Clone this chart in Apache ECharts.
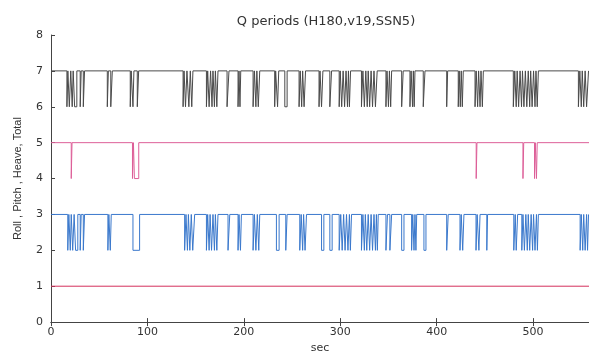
<!DOCTYPE html>
<html>
<head>
<meta charset="utf-8">
<script src="https://cdn.jsdelivr.net/npm/echarts@6/dist/echarts.min.js"></script>
<style>
  html, body { margin: 0; padding: 0; background: #fff; }
  #chart { width: 589px; height: 359px; }
</style>
</head>
<body>
<div id="chart"></div>
<script>
// x extent in sec (right edge of the picture)
const xMax = 558;
const xTicks = [0, 100, 200, 300, 400, 500];

// each series sits on a base level and drops by 1 during these intervals [start, end] (sec)
const totalBase = 7;
const totalDrops = [
  [16.5, 17.5], [19, 20.5], [22, 23], [24.5, 26.8],
  [30.3, 31.3], [33.5, 34.8],
  [58.4, 59.5], [62, 63.6],
  [82.2, 83.2], [85, 86], [89.5, 90.9],
  [137, 138], [139.5, 141], [143, 144.5], [146, 147.2],
  [161.2, 162.5], [164, 165.5], [167, 168], [169.5, 170.5], [172, 173.2],
  [182.6, 184.6],
  [194, 195], [196, 196.8],
  [209.6, 211], [212.5, 213.5], [215, 216.5],
  [232, 233], [235, 236.2],
  [242.5, 244.9],
  [257.3, 258.5], [260, 261], [262.5, 264],
  [278, 279], [280.6, 282],
  [289.2, 291],
  [298.9, 300], [301.5, 303], [304.5, 306], [307.5, 308.5], [309.5, 310.7],
  [322, 323.5], [325, 326.5], [328, 329], [330.5, 332], [333.5, 335], [336.5, 338.3],
  [347.4, 348.5], [350, 351], [352.3, 353.3],
  [363.7, 365.3],
  [372.3, 373.5], [375, 375.8], [376.7, 377.5],
  [386.1, 387.9],
  [410.4, 411.4],
  [422.4, 423.4], [424.5, 425.5], [426.6, 427.6],
  [439.8, 441], [442.5, 443.5], [445, 446], [447.4, 448.4],
  [479.5, 481], [482.5, 483.5], [485, 486.5], [488, 489], [490.5, 492],
  [493.5, 495], [496.5, 497.5], [499, 500.5], [502, 503], [504.3, 505.5],
  [547, 548.5], [550, 551], [552.5, 554], [555.5, 557.5]
];

const heaveBase = 5;
const heaveDrops = [
  [21, 21.8],
  [84.5, 85.5], [86.5, 91],
  [441, 441.8],
  [489.5, 490.3],
  [501.5, 502.3], [503.5, 504.3]
];

const pitchBase = 3;
const pitchDrops = [
  [17.4, 18.5], [20, 21], [22.5, 24], [25.5, 27.8],
  [30.3, 31.3], [33.5, 34.8],
  [59, 60], [61.5, 62.5],
  [85, 91.9],
  [138.6, 140], [141.5, 142.5], [144, 145.5], [147, 149],
  [161.2, 162.5], [164, 165], [166.5, 168], [169.5, 170.5], [172, 173.2],
  [183.6, 185.4],
  [194, 195], [196.5, 197.5],
  [209.6, 211], [212.5, 214], [215.5, 216.5],
  [233.8, 236.6],
  [243.5, 244.9],
  [258, 259.5], [261, 262], [263.5, 265],
  [280.6, 283],
  [289.2, 291.6],
  [298.9, 300.5], [302, 303.5], [305, 306.5], [308, 309.5], [310.5, 311.7],
  [322, 323.5], [325, 326], [327.5, 329], [330.5, 332], [333.5, 335], [336.5, 337.5], [338.5, 339.4],
  [347.4, 349], [351.5, 353.3],
  [363.7, 366.1],
  [374, 375.2], [376.5, 377.5], [378.5, 379.3],
  [386.8, 388.9],
  [410.4, 412],
  [424.2, 425.5], [427, 428.3],
  [440.8, 442], [443.8, 445],
  [452, 452.8],
  [480, 481.5], [482.5, 484],
  [488.3, 489.5], [491, 492.5], [494, 495], [496.5, 498], [499.5, 500.5], [502, 503.5], [504.5, 505.5],
  [548.8, 550], [551.5, 552.5], [554, 555.5], [556.5, 557.5]
];

const rollBase = 1;
const rollDrops = [];

// turn base level + drop intervals into step points
function stepPoints(base, drops) {
  const pts = [[0, base]];
  drops.forEach(([a, b]) => {
    pts.push([a, base], [a, base - 1], [b, base - 1], [b, base]);
  });
  pts.push([xMax, base]);
  return pts;
}

const chart = echarts.init(document.getElementById('chart'));

const axisColor = '#444';
const font = 'DejaVu Sans';

const lineSeries = (name, data, color) => ({
  name: name,
  type: 'line',
  data: data,
  symbol: 'none',
  lineStyle: { color: color, width: 1 },
  animation: false
});

chart.setOption({
  animation: false,
  title: {
    text: 'Q periods (H180,v19,SSN5)',
    left: 321,
    top: 10,
    textAlign: 'center',
    textStyle: { fontFamily: font, fontSize: 13, fontWeight: 'normal', color: '#333' }
  },
  grid: { left: 51, right: 0, top: 35, bottom: 30 },
  xAxis: [{
    type: 'value',
    min: 0,
    max: xMax,
    interval: 100,
    name: 'sec',
    nameLocation: 'middle',
    nameGap: 17,
    nameTextStyle: { fontFamily: font, fontSize: 11, color: '#333' },
    axisLine: { onZero: false, lineStyle: { color: axisColor } },
    axisTick: { inside: true, length: 4, lineStyle: { color: axisColor }, customValues: xTicks },
    axisLabel: { fontFamily: font, fontSize: 11, color: '#333', margin: 5, customValues: xTicks },
    splitLine: { show: false }
  }, {
    // top border of the box
    type: 'value',
    position: 'top',
    min: 0,
    max: xMax,
    interval: 100,
    axisLine: { lineStyle: { color: axisColor } },
    axisTick: { inside: true, length: 4, lineStyle: { color: axisColor }, customValues: xTicks },
    axisLabel: { show: false },
    splitLine: { show: false }
  }],
  yAxis: {
    type: 'value',
    min: 0,
    max: 8,
    interval: 1,
    name: 'Roll , Pitch , Heave, Total',
    nameLocation: 'middle',
    nameGap: 28,
    nameTextStyle: { fontFamily: 'Liberation Sans', fontSize: 11, color: '#333' },
    axisLine: { show: true, lineStyle: { color: axisColor } },
    axisTick: { show: true, inside: true, length: 4, lineStyle: { color: axisColor } },
    axisLabel: { fontFamily: font, fontSize: 11, color: '#333', margin: 8 },
    splitLine: { show: false }
  },
  series: [
    lineSeries('Total', stepPoints(totalBase, totalDrops), '#4a4a4a'),
    lineSeries('Heave', stepPoints(heaveBase, heaveDrops), '#dd5f98'),
    lineSeries('Pitch', stepPoints(pitchBase, pitchDrops), '#3a78cc'),
    lineSeries('Roll', stepPoints(rollBase, rollDrops), '#d4305c')
  ]
});
</script>
</body>
</html>
